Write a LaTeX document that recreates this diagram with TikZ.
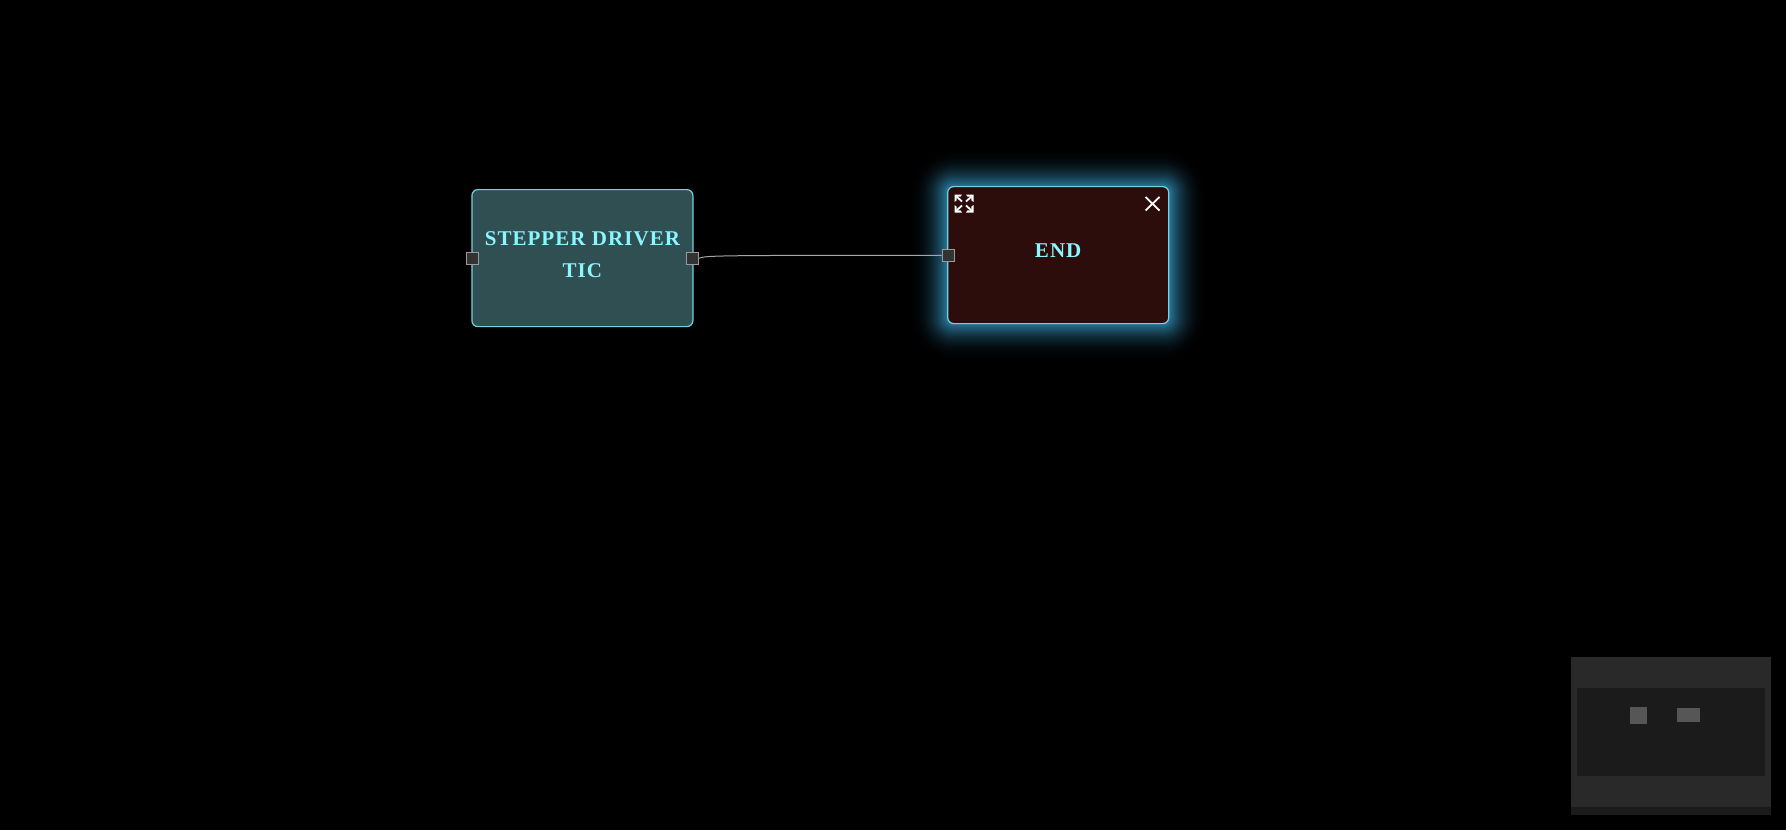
\documentclass[tikz,border=0pt]{standalone}
\usepackage{fontspec}
\setmainfont{Liberation Serif}
\newfontface\labelfont[LetterSpace=5]{Liberation Serif Bold}
\definecolor{bgdark}{HTML}{000000}
\definecolor{driverfill}{HTML}{304F52}
\definecolor{endfill}{HTML}{2C0D0B}
\definecolor{edgecyan}{HTML}{72D4DC}
\definecolor{labelcyan}{HTML}{8AF6FF}
\definecolor{glowblue}{HTML}{2A7A9E}
\definecolor{portfill}{HTML}{333333}
\definecolor{portedge}{HTML}{9A9A9A}
\definecolor{wirecol}{HTML}{A4A8AC}
\definecolor{mapouter}{HTML}{292929}
\definecolor{mapinner}{HTML}{1B1B1B}
\definecolor{mapitem}{HTML}{565656}

\begin{document}
\begin{tikzpicture}[
  x=1pt, y=-1pt,
  blockbox/.style={
    draw=edgecyan, line width=1.2pt, rectangle, rounded corners=6pt,
    minimum width=221pt, minimum height=137pt, text depth=8pt,
    font=\labelfont\fontsize{21}{32}\selectfont, text=labelcyan, align=center, inner sep=0pt
  },
  portbox/.style={
    draw=portedge, fill=portfill, line width=1.3pt, rectangle,
    minimum size=12pt, inner sep=0pt
  },
  mapbox/.style={rectangle, inner sep=0pt, draw=none},
  wire/.style={draw=wirecol, line width=1pt},
  iconline/.style={draw=white, line width=1.8pt},
]

\useasboundingbox (0,0) rectangle (1786,830);
\fill[bgdark] (0,0) rectangle (1786,830);

% glow behind the selected block
\foreach \r in {38,37,...,1} {
  \pgfmathsetmacro{\glowmix}{100*(1-\r/39)^2.2}
  \fill[glowblue!\glowmix!black, rounded corners=6pt+\r pt]
    (947.5-\r,186.8-\r) rectangle (1169+\r,323.4+\r);
}

\node[blockbox, fill=driverfill] (driver) at (582.4, 258.1) {STEPPER DRIVER\\TIC};
\node[blockbox, fill=endfill] (endblock) at (1058.2, 255.1) {END};

\node[portbox] (driverin)  at (472.3, 258.3) {};
\node[portbox] (driverout) at (692.3, 258.3) {};
\node[portbox] (endin)     at (948.3, 255.3) {};

\draw[wire] (driverout.east) .. controls (705, 255.5) and (715, 255.3) .. (endin.west);

% close icon
\draw[iconline] (1145.5,197) -- (1159.5,210.5);
\draw[iconline] (1159.5,197) -- (1145.5,210.5);

% expand icon
\foreach \cx/\cy/\sx/\sy in {954.5/194.5/1/1, 973.5/194.5/-1/1, 954.5/212.5/1/-1, 973.5/212.5/-1/-1} {
  \fill[white] (\cx,\cy) -- ++(7.5*\sx,0) -- ++(-1.5*\sx,2.2*\sy) -- ++(-3.8*\sx,0)
    -- ++(0,3.6*\sy) -- ++(-2.2*\sx,1.7*\sy) -- cycle;
  \draw[iconline] (\cx+2*\sx,\cy+2*\sy) -- (\cx+7.5*\sx,\cy+7*\sy);
}

% minimap
\node[mapbox, fill=mapouter, minimum width=200pt, minimum height=158pt] (maparea) at (1671, 736) {};
\node[mapbox, fill=mapinner, minimum width=200pt, minimum height=8pt] (mapstrip) at (1671, 811) {};
\node[mapbox, fill=mapinner, minimum width=188pt, minimum height=88pt] (mapview) at (1671, 732) {};
\node[mapbox, fill=mapitem, minimum width=17pt, minimum height=17pt] (mapdriver) at (1638.5, 715.5) {};
\node[mapbox, fill=mapitem, minimum width=23pt, minimum height=14pt] (mapend) at (1688.5, 715) {};

\end{tikzpicture}
\end{document}
